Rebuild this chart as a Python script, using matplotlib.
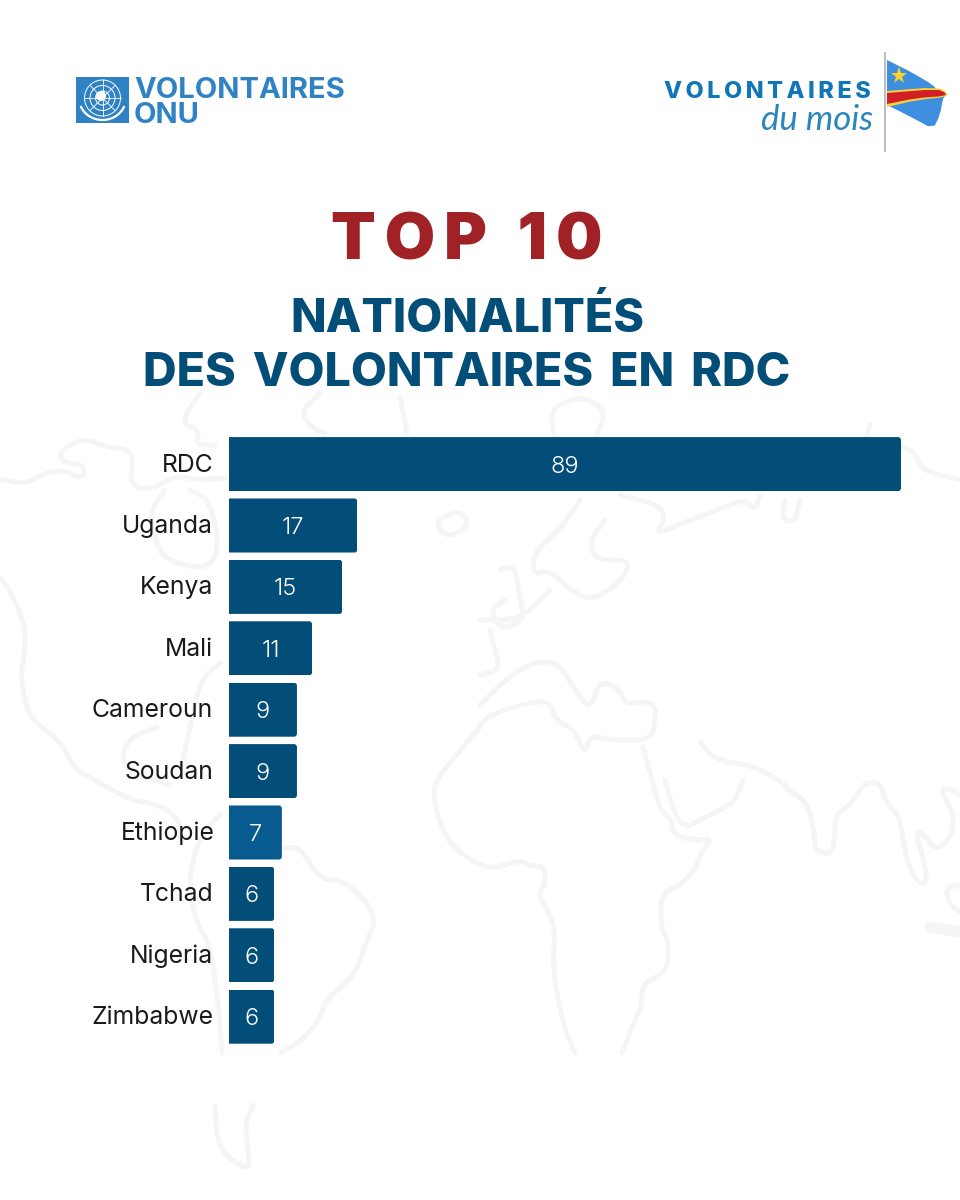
import matplotlib
matplotlib.use("Agg")
import matplotlib.pyplot as plt
from matplotlib.patches import FancyBboxPatch, Polygon, Rectangle, Circle, Arc
from matplotlib.transforms import ScaledTranslation

plt.rcParams["font.family"] = ["Inter", "DejaVu Sans"]

countries = ["RDC", "Uganda", "Kenya", "Mali", "Cameroun", "Soudan", "Ethiopie", "Tchad", "Nigeria", "Zimbabwe"]
volunteers = [89, 17, 15, 11, 9, 9, 7, 6, 6, 6]

NAVY = "#034e78"
LIGHTER = "#075b8e"
MAP_GREY = "#f5f5f5"
UN_BLUE = "#2f83c5"
W, H = 960, 1200

# faint world map behind the chart, traced by hand in pixel coordinates
map_lines = [
    [(0, 479), (25, 484), (45, 473), (65, 470), (78, 478), (85, 474), (82, 464), (62, 463), (60, 450), (85, 438),
     (105, 447), (130, 450), (133, 462), (130, 485), (150, 490), (178, 475), (195, 480), (225, 478)],
    [(190, 490), (210, 500), (220, 550), (205, 570), (165, 560), (155, 540), (150, 510), (165, 490)],
    [(200, 393), (180, 423), (200, 430), (195, 445), (215, 445)],
    [(320, 393), (300, 413), (315, 430), (325, 433)],
    [(400, 397), (407, 433)],
    [(440, 530), (437, 520), (460, 510), (470, 525), (450, 537), (440, 530)],
    [(0, 577), (10, 590), (25, 625), (25, 650), (20, 680), (30, 720), (60, 740), (75, 770), (95, 780), (130, 800),
     (160, 805), (180, 820), (180, 840)],
    [(157, 727), (125, 740), (122, 770), (170, 785)],
    [(220, 663), (200, 680), (190, 730), (180, 770)],
    [(220, 815), (200, 835), (188, 880), (195, 920), (210, 945), (218, 1000), (222, 1053)],
    [(285, 848), (300, 847), (320, 880), (345, 880), (378, 915), (365, 945), (355, 975), (325, 1000), (320, 1020),
     (300, 1042), (280, 1053)],
    [(215, 1107), (218, 1150), (250, 1172), (248, 1150), (245, 1125), (253, 1105)],
    [(555, 440), (550, 410), (570, 400), (585, 398), (605, 410), (600, 430), (590, 445)],
    [(620, 495), (660, 505), (665, 520), (655, 535), (690, 520), (730, 505), (745, 500), (755, 510), (760, 495)],
    [(785, 500), (782, 520), (795, 522), (800, 500)],
    [(870, 425), (865, 440), (880, 440), (915, 450), (920, 470), (960, 480)],
    [(580, 500), (560, 530), (535, 550), (532, 575), (550, 570), (570, 590), (590, 600), (610, 590), (625, 575),
     (630, 560), (595, 560), (590, 540), (605, 520)],
    [(500, 570), (515, 565), (520, 600), (525, 620), (500, 630), (490, 610), (505, 600)],
    [(480, 620), (520, 620), (550, 590)],
    [(490, 630), (495, 650), (500, 670), (480, 675)],
    [(480, 705), (510, 675), (540, 660), (560, 665), (575, 690), (590, 710), (600, 680), (620, 690), (625, 705),
     (655, 700), (655, 725), (650, 740), (610, 740), (590, 735), (585, 755), (575, 730), (555, 720), (550, 700),
     (520, 705), (490, 715), (480, 725)],
    [(480, 727), (463, 747), (440, 775), (433, 790), (437, 815), (450, 845), (480, 866), (495, 868), (520, 860),
     (530, 866), (545, 866), (545, 885), (538, 895), (550, 915), (555, 930), (553, 970), (560, 1010), (567, 1035),
     (575, 1053)],
    [(643, 747), (652, 780), (660, 810), (672, 820), (672, 830), (680, 838), (700, 840), (712, 838), (700, 855),
     (695, 870), (680, 885), (665, 892), (660, 905), (662, 930), (668, 940), (668, 965), (660, 975), (642, 985),
     (642, 1005), (635, 1020), (622, 1053)],
    [(700, 742), (715, 760), (750, 765), (780, 780), (790, 792), (800, 797), (810, 810), (815, 840), (815, 850),
     (830, 855), (835, 840), (835, 815), (850, 805), (860, 790), (865, 783), (880, 782), (885, 800), (895, 812),
     (900, 820), (905, 850), (907, 860), (915, 880), (927, 885), (925, 865), (915, 830), (925, 835), (935, 850),
     (950, 840), (955, 815), (940, 790), (950, 788), (960, 795)],
    [(665, 780), (675, 815), (685, 828), (700, 820), (730, 805), (735, 800), (743, 780)],
    [(960, 885), (945, 888), (950, 905), (960, 912)],
]


def smooth(points, rounds=2):
    """Corner cutting, so the hand traced outlines do not look angular."""
    pts = list(points)
    for _ in range(rounds):
        new = [pts[0]]
        for (x0, y0), (x1, y1) in zip(pts[:-1], pts[1:]):
            new.append((0.75 * x0 + 0.25 * x1, 0.75 * y0 + 0.25 * y1))
            new.append((0.25 * x0 + 0.75 * x1, 0.25 * y0 + 0.75 * y1))
        new.append(pts[-1])
        pts = new
    return pts


fig = plt.figure(figsize=(W / 100, H / 100), dpi=100, facecolor="white")

# background layer in image pixels
bg = fig.add_axes([0, 0, 1, 1], zorder=0)
bg.set_xlim(0, W)
bg.set_ylim(H, 0)
bg.axis("off")

for line in map_lines:
    pts = smooth(line)
    bg.plot([p[0] for p in pts], [p[1] for p in pts], color=MAP_GREY, lw=3.6,
            solid_joinstyle="round", solid_capstyle="round")
bg.plot([930, 960], [927, 932], color=MAP_GREY, lw=8, solid_capstyle="round")

# UN logo
bg.add_patch(Rectangle((76, 77), 53, 46, color=UN_BLUE, lw=0))
for r in (18, 12.5, 7):
    bg.add_patch(Circle((102.5, 98), r, fc="none", ec="white", lw=0.7))
bg.plot([84.5, 120.5], [98, 98], color="white", lw=0.6)
bg.plot([102.5, 102.5], [80, 116], color="white", lw=0.6)
bg.plot([90, 115], [85.5, 110.5], color="white", lw=0.6)
bg.plot([115, 90], [85.5, 110.5], color="white", lw=0.6)
bg.add_patch(Circle((101, 96), 5, fc="white", ec="none"))
bg.add_patch(Arc((102.5, 98), 47, 44, theta1=20, theta2=160, ec="white", lw=1.6))
bg.text(134, 98, "VOLONTAIRES", fontsize=21, fontweight="bold", color=UN_BLUE, va="baseline", ha="left")
bg.text(134, 123, "ONU", fontsize=21, fontweight="bold", color=UN_BLUE, va="baseline", ha="left")

# volontaires du mois logo with the flag
bg.text(664, 98, "\u2009".join("VOLONTAIRES"), fontsize=16.9, fontweight=800, color="#0f76b8",
        va="baseline", ha="left")
bg.text(873, 130, "du mois", fontsize=25, style="italic", color="#2b86c0", va="baseline", ha="right",
        family=["Lato", "DejaVu Sans"])
bg.add_patch(Rectangle((884, 52), 2.4, 100, color="#b9bec4", lw=0))
flag_blue = [(887, 60), (913, 73), (933, 85), (937, 90), (947, 93), (946, 95), (943, 98), (940, 115), (933, 129),
             (913, 118), (887, 105)]
flag_yellow = [(887, 91), (937, 87), (948, 93), (946, 97), (917, 100), (887, 107)]
flag_red = [(887, 93), (937, 89), (946, 93), (945, 96), (917, 98), (887, 104)]
flag_star = [(899, 67), (901, 73), (907, 73), (902, 77), (904, 83), (899, 79), (894, 83), (896, 77), (891, 73), (897, 73)]
bg.add_patch(Polygon(smooth(flag_blue, 1), fc="#3f8fe0", ec="none"))
bg.add_patch(Polygon(smooth(flag_yellow, 1), fc="#f3d23a", ec="none"))
bg.add_patch(Polygon(smooth(flag_red, 1), fc="#d01f26", ec="none"))
bg.add_patch(Polygon(flag_star, fc="#f5d327", ec="none"))

# titles
bg.text(467, 260, "\u2009".join("TOP") + "\u2009 \u2009" + "\u2009".join("10"), fontsize=47, fontweight="black",
        color="#a02226", ha="center", va="baseline")
bg.text(467, 332, "NATIONALITÉS", fontsize=33.5, fontweight=800, color=NAVY, ha="center", va="baseline")
bg.text(467, 386, "DES\u2009 VOLONTAIRES\u2009 EN\u2009 RDC", fontsize=33.5, fontweight=800, color=NAVY,
        ha="center", va="baseline")

# bar chart, x scale is 672 px for 89 volunteers
ax = fig.add_axes([229 / W, 1 - 1047.4 / H, 672 / W, 614 / H], zorder=1)
ax.patch.set_alpha(0)
colors = [LIGHTER if c == "Ethiopie" else NAVY for c in countries]
bars = ax.barh(countries, volunteers, height=0.88, color=colors)
ax.set_xlim(0, 89)
ax.set_ylim(9.5, -0.5)
for s in ax.spines.values():
    s.set_visible(False)
ax.xaxis.set_visible(False)
ax.tick_params(axis="y", length=0, pad=11.5, labelsize=17.8, labelcolor="#1a1a1a")
value_labels = ax.bar_label(bars, labels=[str(v) for v in volunteers], label_type="center", color="white",
                            fontsize=17, fontweight=300)
for t in value_labels:
    t.set_verticalalignment("center_baseline")

# labels sit a bit above the bar centre, Ethiopie sticks out further right
for lab in ax.get_yticklabels():
    dx = 2 if lab.get_text() == "Ethiopie" else 0
    lab.set_transform(lab.get_transform() + ScaledTranslation(dx / 100, 1.5 / 100, fig.dpi_scale_trans))

# rounded right corners, about 3 px radius
for b in bars:
    box = FancyBboxPatch((-1, b.get_y()), b.get_width() + 1, b.get_height(),
                         boxstyle="round,pad=0,rounding_size=0.4", mutation_aspect=0.123,
                         transform=ax.transData)
    b.set_clip_path(box)

fig.savefig("out.png", dpi=100)
